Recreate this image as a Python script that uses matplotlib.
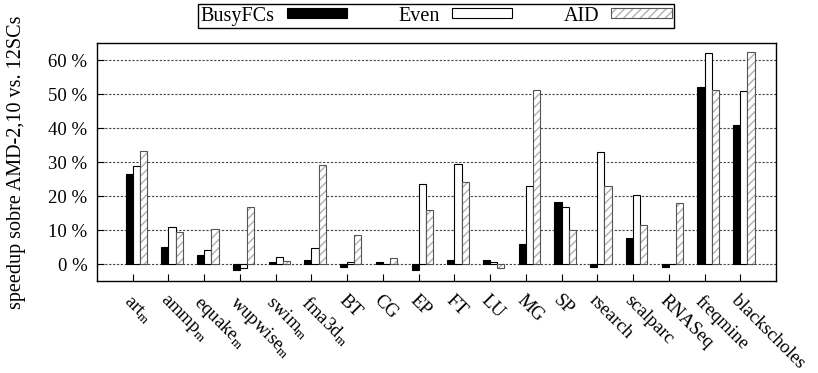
import numpy as np
import matplotlib.pyplot as plt
from matplotlib.patches import Patch
from matplotlib.legend_handler import HandlerTuple

plt.rcParams['font.family'] = ['Liberation Serif', 'DejaVu Serif']
plt.rcParams['mathtext.fontset'] = 'custom'
plt.rcParams['mathtext.rm'] = 'Liberation Serif'
plt.rcParams['mathtext.it'] = 'Liberation Serif'

# benchmarks (SPEC ones carry a subscript m)
benchmarks = ['art$_{\\rm m}$', 'ammp$_{\\rm m}$', 'equake$_{\\rm m}$', 'wupwise$_{\\rm m}$',
              'swim$_{\\rm m}$', 'fma3d$_{\\rm m}$', 'BT', 'CG', 'EP', 'FT', 'LU', 'MG', 'SP',
              'rsearch', 'scalparc', 'RNASeq', 'freqmine', 'blackscholes']

# speedup (%)
busyfcs = [26.5, 4.9, 2.7, -1.9, 0.5, 1.1, -1.0, 0.7, -1.7, 1.1, 1.1, 6.0, 18.1,
           -1.0, 7.6, -1.0, 52.2, 40.9]
even = [28.7, 11.0, 4.0, -1.2, 2.0, 4.7, 0.7, 0.1, 23.6, 29.4, 0.5, 23.0, 16.8,
        32.9, 20.3, 0.1, 62.1, 50.9]
aid = [33.2, 9.3, 10.4, 16.9, 1.0, 29.1, 8.4, 1.7, 15.9, 24.0, -1.2, 51.2, 10.1,
       22.9, 11.5, 18.0, 51.2, 62.4]

yticks = [0, 10, 20, 30, 40, 50, 60]

fig = plt.figure(figsize=(8.18, 3.73), dpi=100)
ax = fig.add_axes([0.1186, 0.2466, 0.8301, 0.6381])

x = np.arange(len(benchmarks))
w = 0.2

ax.bar(x - 0.1, busyfcs, w, color='black', edgecolor='black', linewidth=0.8, zorder=2)
ax.bar(x + 0.1, even, w, color='white', edgecolor='black', linewidth=0.8, zorder=2)
ax.bar(x + 0.3, aid, w, color='white', edgecolor='#b0b0b0', hatch='////', linewidth=0, zorder=2)
ax.bar(x + 0.3, aid, w, fill=False, edgecolor='#555555', linewidth=0.8, zorder=3)

ax.set_xlim(-1, 18)
ax.set_ylim(-5, 65)
ax.set_yticks(yticks)
ax.set_yticklabels([f'{v} %' for v in yticks], fontsize=13.5)
ax.set_xticks(x)
ax.set_xticklabels(benchmarks, rotation=-45, ha='left', va='top',
                   rotation_mode='anchor', fontsize=13.5)
ax.tick_params(axis='both', direction='in', length=5, width=0.8)
ax.tick_params(axis='x', pad=8)
ax.tick_params(axis='y', pad=7)

ax.set_axisbelow(True)
ax.yaxis.grid(True, linestyle=(0, (2, 1.5)), color='#444444', linewidth=0.8)

for s in ax.spines.values():
    s.set_linewidth(1.0)
    s.set_color('black')

ax.set_ylabel('speedup sobre AMD-2,10 vs. 12SCs', fontsize=14.5)
ax.yaxis.set_label_coords(-0.104, 0.5)

h_busy = Patch(facecolor='black', edgecolor='black', linewidth=0.8)
h_even = Patch(facecolor='white', edgecolor='black', linewidth=0.8)
h_aid = (Patch(facecolor='white', edgecolor='#b0b0b0', hatch='////', linewidth=0),
         Patch(fill=False, edgecolor='#555555', linewidth=0.8))
leg = fig.legend([h_busy, h_even, h_aid], ['BusyFCs', 'Even', 'AID'],
                 handler_map={tuple: HandlerTuple(ndivide=1, pad=0)},
                 ncol=3, markerfirst=False, loc='center',
                 bbox_to_anchor=(0.533, 0.957), fontsize=14.5,
                 handlelength=3.0, handleheight=0.4, handletextpad=0.6,
                 columnspacing=2.55, borderpad=0.12, fancybox=False,
                 framealpha=1, edgecolor='black')
leg.get_frame().set_linewidth(1.0)

fig.savefig('out.png', dpi=100)
